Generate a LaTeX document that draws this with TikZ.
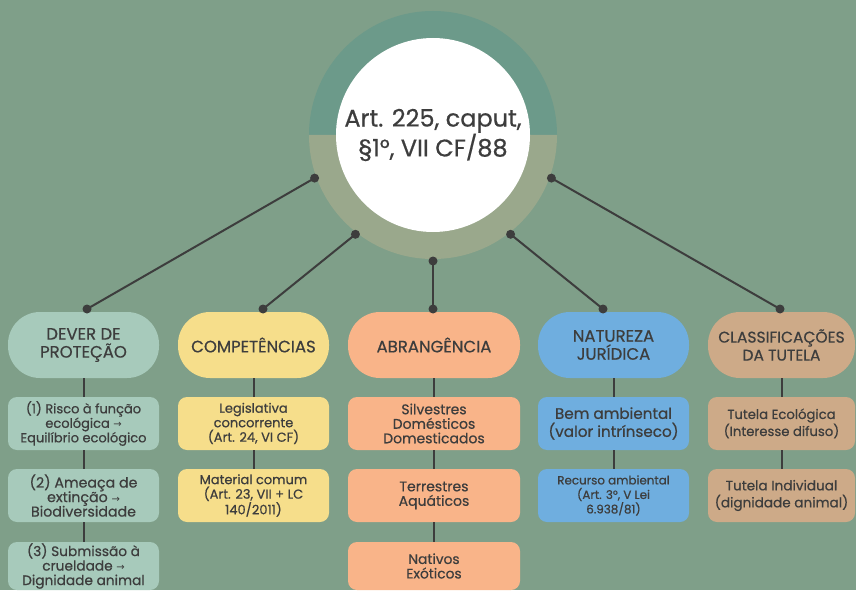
\documentclass[tikz,border=0pt]{standalone}
\usepackage{fontspec}
\setmainfont{Poppins}[FakeBold=0.6]
\newfontfamily\arrowfont{DejaVu Sans}
\usepackage{tikz}
\usetikzlibrary{calc}

\definecolor{bg}{HTML}{7F9F89}
\definecolor{ringtop}{HTML}{6C9A8A}
\definecolor{ringbot}{HTML}{9AA88C}
\definecolor{ink}{HTML}{3D3D3D}
\definecolor{mint}{HTML}{A7CABB}
\definecolor{sand}{HTML}{F6DE8B}
\definecolor{salmon}{HTML}{F9B489}
\definecolor{sky}{HTML}{6FAEDF}
\definecolor{tan}{HTML}{CDAA88}

\newcommand{\arr}{{\arrowfont\fontsize{10}{10}\selectfont →}}

\tikzset{
	pill/.style={fill=#1, rounded corners=32pt, minimum width=151pt, minimum height=66pt,
		inner sep=0pt, align=center, text=ink, font=\fontsize{16.5}{18}\selectfont},
	subbox/.style={fill=#1, rounded corners=9pt, minimum width=151pt, minimum height=53pt,
		inner sep=0pt, align=center, text=ink},
	link/.style={draw=ink, line width=2pt},
	fs/.style={font=\fontsize{#1}{14.5}\selectfont},
}

\begin{document}
\begin{tikzpicture}[x=1pt,y=1pt]
	% background
	\fill[bg] (0,0) rectangle (856,590);
	\useasboundingbox (0,0) rectangle (856,590);

	% points
	\coordinate (O) at (433,455);

	\coordinate (r1) at ($(O)+(200:126)$);
	\coordinate (r2) at ($(O)+(232:126)$);
	\coordinate (r3) at ($(O)+(270:126)$);
	\coordinate (r4) at ($(O)+(308:126)$);
	\coordinate (r5) at ($(O)+(340:126)$);

	\coordinate (t1) at (87,281);
	\coordinate (t2) at (263,281);
	\coordinate (t3) at (433,281);
	\coordinate (t4) at (603,281);
	\coordinate (t5) at (780,281);

	% ring and centre
	\fill[ringtop] ($(O)+(0:124)$) arc[start angle=0, end angle=180, radius=124] -- cycle;
	\fill[ringbot] ($(O)+(180:124)$) arc[start angle=180, end angle=360, radius=124] -- cycle;
	\node[circle, fill=white, minimum size=194pt, inner sep=0pt, align=center, text=ink,
		font=\fontsize{24}{28}\selectfont] (art) at (O) {Art. 225, caput,\\§1°, VII CF/88};

	% headers
	\node[pill=mint] (dever) at (83.5,245) {DEVER DE\\PROTEÇÃO};
	\node[pill=sand] (comp) at (253.5,245) {COMPETÊNCIAS};
	\node[pill=salmon, minimum width=172pt] (abr) at (434,245) {ABRANGÊNCIA};
	\node[pill=sky] (nat) at (613.5,245) {NATUREZA\\JURÍDICA};
	\node[pill=tan, minimum width=147pt, font=\fontsize{15.5}{18}\selectfont] (clas) at (781.5,245) {CLASSIFICAÇÕES\\DA TUTELA};

	% sub boxes
	\node[subbox=mint, fs=13] (dever1) at (83.5,166.5) {(1) Risco à função\\ecológica \arr\\Equilíbrio ecológico};
	\node[subbox=mint, fs=14.2] (dever2) at (83.5,94.5) {(2) Ameaça de\\extinção \arr\\Biodiversidade};
	\node[subbox=mint, fs=13.7, minimum height=48pt] (dever3) at (83.5,24) {(3) Submissão à\\crueldade \arr\\Dignidade animal};

	\node[subbox=sand, fs=13] (comp1) at (253.5,166.5) {Legislativa\\concorrente\\(Art. 24, VI CF)};
	\node[subbox=sand, fs=13] (comp2) at (253.5,94.5) {Material comum\\(Art. 23, VII + LC\\140/2011)};

	\node[subbox=salmon, fs=14, minimum width=172pt] (abr1) at (434,166.5) {Silvestres\\Domésticos\\Domesticados};
	\node[subbox=salmon, fs=14, minimum width=172pt] (abr2) at (434,94.5) {Terrestres\\Aquáticos};
	\node[subbox=salmon, fs=13.8, minimum width=172pt, minimum height=48pt] (abr3) at (434,24) {Nativos\\Exóticos};

	\node[subbox=sky, fs=15.2, font=\fontsize{15.2}{18}\selectfont] (nat1) at (613.5,166.5) {Bem ambiental\\(valor intrínseco)};
	\node[subbox=sky, fs=11.9] (nat2) at (613.5,94.5) {Recurso ambiental\\(Art. 3°, V Lei\\6.938/81)};

	\node[subbox=tan, minimum width=147pt, font=\fontsize{13.2}{17}\selectfont] (clas1) at (781.5,166.5) {Tutela Ecológica\\(Interesse difuso)};
	\node[subbox=tan, minimum width=147pt, font=\fontsize{13.6}{17}\selectfont] (clas2) at (781.5,94.5) {Tutela Individual\\(dignidade animal)};

	% links from the centre
	\draw[link] (r1) -- (t1);
	\draw[link] (r2) -- (t2);
	\draw[link] (r3) -- (t3);
	\draw[link] (r4) -- (t4);
	\draw[link] (r5) -- (t5);

	\fill[ink] (r1) circle (4.5) (r2) circle (4.5) (r3) circle (4.5) (r4) circle (4.5) (r5) circle (4.5);
	\fill[ink] (t1) circle (4.5) (t2) circle (4.5) (t3) circle (4.5) (t4) circle (4.5) (t5) circle (4.5);

	% links inside columns
	\draw[link] (dever.south) -- (dever1.north);
	\draw[link] (dever1.south) -- (dever2.north);
	\draw[link] (dever2.south) -- (dever3.north);

	\draw[link] (comp.south) -- (comp1.north);
	\draw[link] (comp1.south) -- (comp2.north);

	\draw[link] (abr.south) -- (abr1.north);
	\draw[link] (abr1.south) -- (abr2.north);
	\draw[link] (abr2.south) -- (abr3.north);

	\draw[link] (nat.south) -- (nat1.north);
	\draw[link] (nat1.south) -- (nat2.north);

	\draw[link] (clas.south) -- (clas1.north);
	\draw[link] (clas1.south) -- (clas2.north);

\end{tikzpicture}
\end{document}
